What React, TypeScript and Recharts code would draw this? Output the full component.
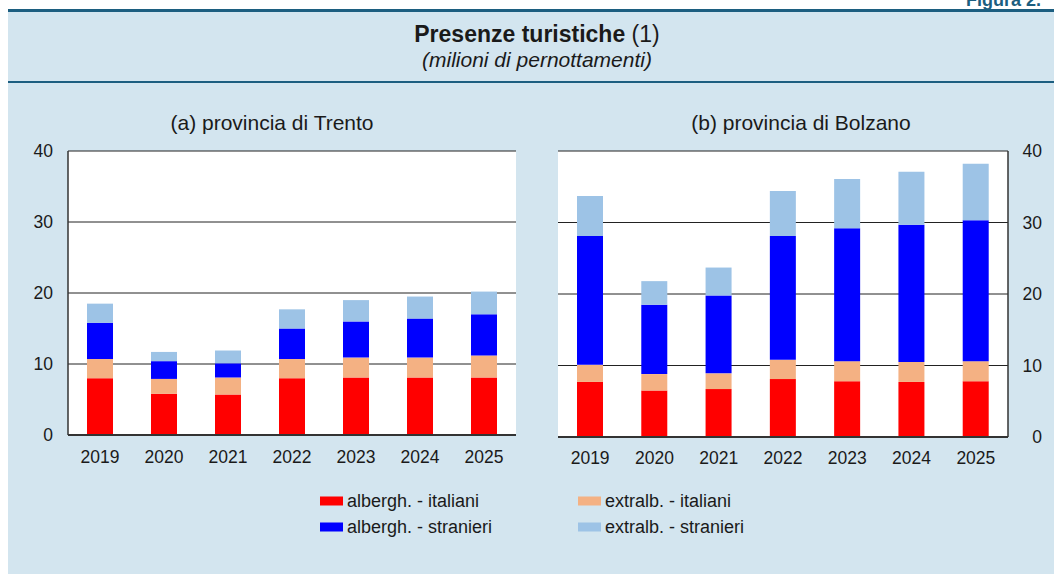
import React from 'react';
import { BarChart, Bar, XAxis, YAxis, CartesianGrid } from 'recharts';

const years = ['2019', '2020', '2021', '2022', '2023', '2024', '2025'];
const yTicks = [0, 10, 20, 30, 40];

// (a) provincia di Trento
const trentoAlbIta = [8.0, 5.8, 5.7, 8.0, 8.1, 8.1, 8.1];
const trentoExtIta = [2.7, 2.1, 2.4, 2.7, 2.8, 2.8, 3.1];
const trentoAlbStr = [5.1, 2.5, 2.0, 4.3, 5.1, 5.5, 5.8];
const trentoExtStr = [2.7, 1.3, 1.8, 2.7, 3.0, 3.1, 3.2];

// (b) provincia di Bolzano
const bolzanoAlbIta = [7.7, 6.5, 6.7, 8.1, 7.8, 7.7, 7.8];
const bolzanoExtIta = [2.4, 2.3, 2.2, 2.7, 2.8, 2.8, 2.8];
const bolzanoAlbStr = [18.0, 9.7, 10.9, 17.3, 18.6, 19.2, 19.7];
const bolzanoExtStr = [5.6, 3.3, 3.9, 6.3, 6.9, 7.4, 7.9];

const series = [
  { key: 'albIta', name: 'albergh. - italiani', color: '#ff0000' },
  { key: 'extIta', name: 'extralb. - italiani', color: '#f4b183' },
  { key: 'albStr', name: 'albergh. - stranieri', color: '#0000ff' },
  { key: 'extStr', name: 'extralb. - stranieri', color: '#9dc3e6' },
];

const build = (a: number[], b: number[], c: number[], d: number[]) =>
  years.map((y, i) => ({ year: y, albIta: a[i], extIta: b[i], albStr: c[i], extStr: d[i] }));

const trentoData = build(trentoAlbIta, trentoExtIta, trentoAlbStr, trentoExtStr);
const bolzanoData = build(bolzanoAlbIta, bolzanoExtIta, bolzanoAlbStr, bolzanoExtStr);

const FONT = '"Liberation Sans", Arial, Helvetica, sans-serif';
const INK = '#1a1a1a';
const BG = '#d3e5ef';
const NAVY = '#1c5e80';
const tickFont = { fill: INK, fontSize: 17.5, fontFamily: FONT };

// right-aligned labels on the right-hand axis
const RightTick = (props: any) => {
  const { x, y, payload } = props;
  return (
    <text x={x + 34} y={y} textAnchor="end" dominantBaseline="central" {...tickFont}>
      {payload.value}
    </text>
  );
};

function Bars() {
  return series.map((s) => (
    <Bar key={s.key} dataKey={s.key} stackId="a" fill={s.color} barSize={26} isAnimationActive={false} />
  ));
}

const legendItems = [
  { s: series[0], x: 320, y: 501 },
  { s: series[1], x: 578, y: 501 },
  { s: series[2], x: 320, y: 527 },
  { s: series[3], x: 578, y: 527 },
];

export default function App() {
  return (
    <div style={{ position: 'absolute', left: 0, top: 0, width: 1054, height: 574, background: '#fff', overflow: 'hidden', fontFamily: FONT }}>
      <svg width={1054} height={574} style={{ position: 'absolute', left: 0, top: 0 }}>
        <rect x={8} y={9} width={1060} height={570} fill={BG} />
        <rect x={8} y={9} width={1060} height={3} fill={NAVY} />
        <rect x={8} y={81} width={1060} height={2} fill={NAVY} />
        <text x={966} y={6} fill={NAVY} fontSize={18} fontWeight="bold" fontFamily={FONT}>Figura 2.</text>
        <text x={537} y={42} textAnchor="middle" fill={INK} fontSize={23} fontFamily={FONT}>
          <tspan fontWeight="bold">Presenze turistiche</tspan> (1)
        </text>
        <text x={537} y={67} textAnchor="middle" fill={INK} fontSize={21} fontStyle="italic" fontFamily={FONT}>
          (milioni di pernottamenti)
        </text>
        <text x={272} y={129.5} textAnchor="middle" fill={INK} fontSize={21} fontFamily={FONT}>(a) provincia di Trento</text>
        <text x={801} y={129.5} textAnchor="middle" fill={INK} fontSize={21} fontFamily={FONT}>(b) provincia di Bolzano</text>
        {legendItems.map(({ s, x, y }) => (
          <g key={s.key}>
            <rect x={x} y={y - 4.5} width={23} height={9} fill={s.color} />
            <text x={x + 27} y={y} dominantBaseline="central" fill={INK} fontSize={18} fontFamily={FONT}>{s.name}</text>
          </g>
        ))}
      </svg>

      <div style={{ position: 'absolute', left: 0, top: 0 }}>
        <BarChart width={540} height={480} data={trentoData} margin={{ top: 151, right: 24, left: 28, bottom: 15 }}>
          <CartesianGrid vertical={false} stroke="#222" fill="#fff" fillOpacity={1} />
          <XAxis dataKey="year" height={30} tickLine={false} tickSize={0} tickMargin={16} axisLine={{ stroke: '#333', strokeWidth: 2 }} tick={tickFont} interval={0} />
          <YAxis domain={[0, 40]} ticks={yTicks} width={40} tickLine={false} tickSize={0} tickMargin={15} axisLine={{ stroke: '#333', strokeWidth: 1.5 }} tick={tickFont} />
          <YAxis yAxisId="frame" orientation="right" domain={[0, 40]} ticks={yTicks} width={0} tick={false} tickLine={false} axisLine={{ stroke: '#333', strokeWidth: 1.5 }} />
          {Bars()}
        </BarChart>
      </div>

      <div style={{ position: 'absolute', left: 540, top: 0 }}>
        <BarChart width={514} height={480} data={bolzanoData} margin={{ top: 151, right: 6, left: 18, bottom: 13 }}>
          <CartesianGrid vertical={false} stroke="#222" fill="#fff" fillOpacity={1} />
          <XAxis dataKey="year" height={30} tickLine={false} tickSize={0} tickMargin={15} axisLine={{ stroke: '#333', strokeWidth: 2 }} tick={tickFont} interval={0} />
          <YAxis orientation="right" domain={[0, 40]} ticks={yTicks} width={40} tickLine={false} tickSize={0} tickMargin={0} axisLine={{ stroke: '#333', strokeWidth: 1.5 }} tick={<RightTick />} />
          <YAxis yAxisId="frame" orientation="left" domain={[0, 40]} ticks={yTicks} width={0} tick={false} tickLine={false} axisLine={{ stroke: '#333', strokeWidth: 1.5 }} />
          {Bars()}
        </BarChart>
      </div>
    </div>
  );
}
